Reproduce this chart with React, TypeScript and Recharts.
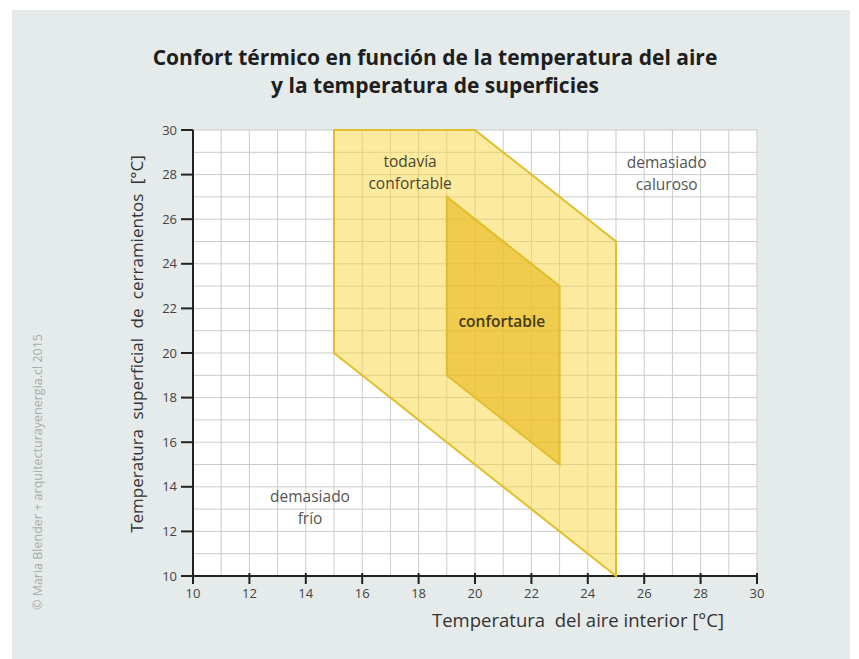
import React from "react";
import {
    ScatterChart,
    Scatter,
    XAxis,
    YAxis,
    CartesianGrid,
} from "recharts";

// ejes (temperaturas en °C): una línea de grilla por grado, rótulo cada 2
const gridTicks = [
    10, 11, 12, 13, 14, 15, 16, 17, 18, 19, 20, 21, 22, 23, 24, 25, 26, 27, 28,
    29, 30,
];
const labelledTicks = [10, 12, 14, 16, 18, 20, 22, 24, 26, 28, 30];

// zona "todavía confortable" (aire, superficie)
const outerZoneAir = [15, 20, 25, 25, 15];
const outerZoneSurface = [30, 30, 25, 10, 20];

// zona "confortable"
const innerZoneAir = [19, 23, 23, 19];
const innerZoneSurface = [27, 23, 15, 19];

// textos dentro del gráfico
const labelAir = [17.7, 26.8, 20.95, 14.15];
const labelSurface = [28.1, 28.05, 21.4, 13.05];
const labelTexts = [
    ["todavía", "confortable"],
    ["demasiado", "caluroso"],
    ["confortable"],
    ["demasiado", "frío"],
];
const labelColors = ["#4a4630", "#555555", "#453a0e", "#555555"];
const labelWeights = [500, 400, 600, 400];

const outerZone = outerZoneAir.map((x, i) => ({ x, y: outerZoneSurface[i] }));
const innerZone = innerZoneAir.map((x, i) => ({ x, y: innerZoneSurface[i] }));
const zoneLabels = labelAir.map((x, i) => ({
    x,
    y: labelSurface[i],
    lines: labelTexts[i],
    color: labelColors[i],
    weight: labelWeights[i],
}));

const FONT = "'Open Sans', 'Noto Sans', sans-serif";
const TICK_SIZE = 7;
const TICK_MARGIN = 2;

const polygon = (fill: string, opacity: number) => (props: any) => {
    const pts = (props.points || [])
        .map((p: { x: number; y: number }) => `${p.x},${p.y}`)
        .join(" ");
    return (
        <polygon
            points={pts}
            fill={fill}
            fillOpacity={opacity}
            stroke="#e0bf2a"
            strokeWidth={2}
        />
    );
};

const ZoneLabel = (props: any) => {
    const { cx, cy, payload } = props;
    const lines: string[] = payload.lines;
    const start = cy - ((lines.length - 1) * 22) / 2;
    return (
        <text
            x={cx}
            textAnchor="middle"
            fontFamily={FONT}
            fontSize={15.5}
            fontWeight={payload.weight}
            fill={payload.color}
        >
            {lines.map((l, i) => (
                <tspan key={i} x={cx} y={start + i * 22} dy="0.35em">
                    {l}
                </tspan>
            ))}
        </text>
    );
};

// marca + rótulo sólo en los valores pares
const XTick = (props: any) => {
    const { x, y, payload } = props;
    if (!labelledTicks.includes(payload.value)) return <g />;
    const axisY = y - TICK_SIZE - TICK_MARGIN;
    return (
        <g>
            <line x1={x} x2={x} y1={axisY - 3} y2={axisY + 8} stroke="#222" strokeWidth={2} />
            <text x={x} y={axisY + 22} textAnchor="middle" fontFamily={FONT} fontSize={13} fill="#444">
                {payload.value}
            </text>
        </g>
    );
};

const YTick = (props: any) => {
    const { x, y, payload } = props;
    if (!labelledTicks.includes(payload.value)) return <g />;
    const axisX = x + TICK_SIZE + TICK_MARGIN;
    return (
        <g>
            <line x1={axisX - 12} x2={axisX} y1={y} y2={y} stroke="#222" strokeWidth={2} />
            <text x={axisX - 16} y={y} dy="0.35em" textAnchor="end" fontFamily={FONT} fontSize={13} fill="#444">
                {payload.value}
            </text>
        </g>
    );
};

const App = () => {
    return (
        <div
            style={{
                position: "absolute",
                left: 0,
                top: 0,
                width: 859,
                height: 659,
                background: "#ffffff",
                fontFamily: FONT,
            }}
        >
            <div
                style={{
                    position: "absolute",
                    left: 12,
                    top: 10,
                    width: 838,
                    height: 649,
                    background: "#e5eaea",
                }}
            />
            <div
                style={{
                    position: "absolute",
                    left: 0,
                    top: 43,
                    width: 870,
                    textAlign: "center",
                    fontWeight: 700,
                    fontSize: 21,
                    lineHeight: "28px",
                    color: "#1e1e1e",
                }}
            >
                Confort térmico en función de la temperatura del aire
                <br />y la temperatura de superficies
            </div>
            <div
                style={{
                    position: "absolute",
                    left: 37,
                    top: 472,
                    transform: "translate(-50%, -50%) rotate(-90deg)",
                    whiteSpace: "nowrap",
                    fontSize: 12.5,
                    color: "#a9adad",
                }}
            >
                © Maria Blender + arquitecturayenergia.cl 2015
            </div>
            <div style={{ position: "absolute", left: 0, top: 0 }}>
                <ScatterChart
                    width={859}
                    height={659}
                    margin={{ top: 130, right: 102, bottom: 53, left: 133 }}
                >
                    <CartesianGrid stroke="#c9cbcb" strokeWidth={1} fill="#ffffff" />
                    <XAxis
                        type="number"
                        dataKey="x"
                        domain={[10, 30]}
                        ticks={gridTicks}
                        interval={0}
                        height={30}
                        stroke="#222"
                        strokeWidth={2}
                        tickLine={false}
                        tickSize={TICK_SIZE}
                        tickMargin={TICK_MARGIN}
                        tick={XTick}
                        label={{
                            content: (p: any) => {
                                const vb = p.viewBox;
                                return (
                                    <text
                                        x={vb.x + vb.width - 179}
                                        y={vb.y + 51}
                                        textAnchor="middle"
                                        fontFamily={FONT}
                                        fontSize={18.5}
                                        fill="#333"
                                    >
                                        Temperatura&#160; del aire interior [°C]
                                    </text>
                                );
                            },
                        }}
                    />
                    <YAxis
                        type="number"
                        dataKey="y"
                        domain={[10, 30]}
                        ticks={gridTicks}
                        interval={0}
                        width={60}
                        stroke="#222"
                        strokeWidth={2}
                        tickLine={false}
                        tickSize={TICK_SIZE}
                        tickMargin={TICK_MARGIN}
                        tick={YTick}
                        label={{
                            content: (p: any) => {
                                const vb = p.viewBox;
                                const x = vb.x + 10;
                                const y = vb.y + vb.height / 2 - 9;
                                return (
                                    <text
                                        x={x}
                                        y={y}
                                        transform={`rotate(-90 ${x} ${y})`}
                                        textAnchor="middle"
                                        fontFamily={FONT}
                                        fontSize={17}
                                        fill="#333"
                                        wordSpacing={5}
                                    >
                                        Temperatura superficial de cerramientos [°C]
                                    </text>
                                );
                            },
                        }}
                    />
                    <Scatter
                        data={outerZone}
                        line={polygon("#f9d540", 0.5)}
                        shape={() => <g />}
                        isAnimationActive={false}
                    />
                    <Scatter
                        data={innerZone}
                        line={polygon("#ebba24", 0.65)}
                        shape={() => <g />}
                        isAnimationActive={false}
                    />
                    <Scatter
                        data={zoneLabels}
                        shape={ZoneLabel}
                        isAnimationActive={false}
                    />
                </ScatterChart>
            </div>
        </div>
    );
};

export default App;
